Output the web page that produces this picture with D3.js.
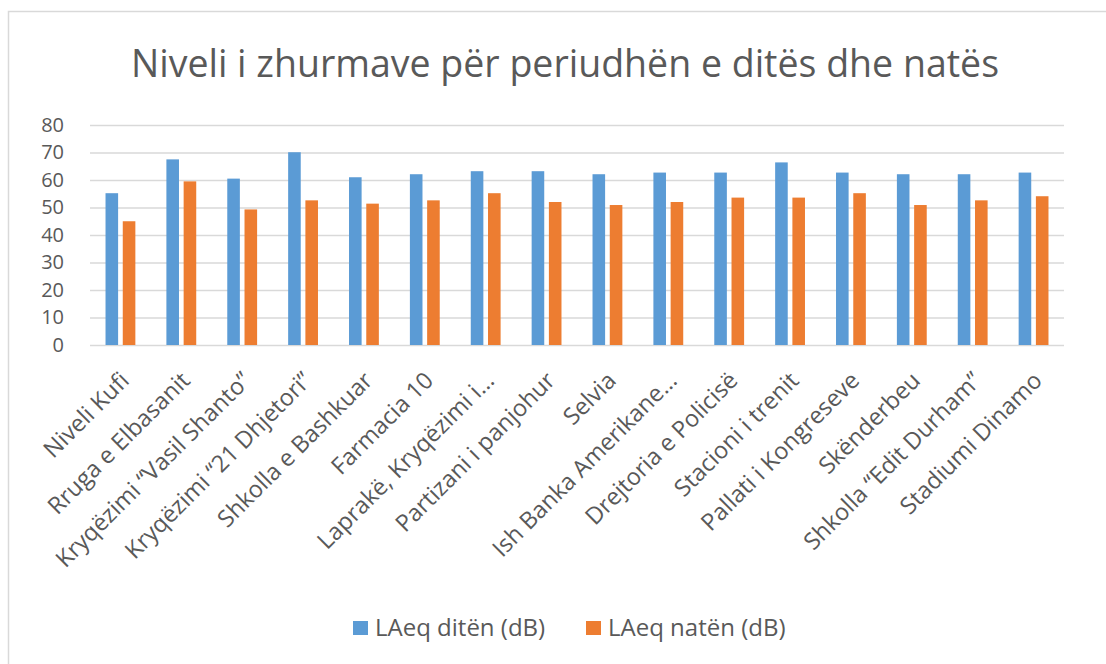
<!DOCTYPE html>
<html>
<head>
<meta charset="utf-8">
<script src="https://cdn.jsdelivr.net/npm/d3@7"></script>
<style>
  body { margin: 0; background: #fff; }
  text { font-family: "Open Sans", sans-serif; fill: #595959; }
</style>
</head>
<body>
<div id="chart"></div>
<script>
// chart data
var categories = ["Niveli Kufi", "Rruga e Elbasanit", "Kryqëzimi “Vasil Shanto”",
  "Kryqëzimi “21 Dhjetori”", "Shkolla e Bashkuar", "Farmacia 10",
  "Laprakë, Kryqëzimi i…", "Partizani i panjohur", "Selvia",
  "Ish Banka Amerikane…", "Drejtoria e Policisë", "Stacioni i trenit",
  "Pallati i Kongreseve", "Skënderbeu", "Shkolla “Edit Durham”", "Stadiumi Dinamo"];
var dayValues   = [55.2, 67.5, 60.5, 70.1, 61.0, 62.1, 63.2, 63.2, 62.1, 62.7, 62.7, 66.4, 62.7, 62.1, 62.1, 62.7];
var nightValues = [45.0, 59.5, 49.3, 52.6, 51.4, 52.6, 55.2, 52.0, 50.9, 52.0, 53.6, 53.6, 55.2, 50.9, 52.6, 54.1];
var seriesNames = ["LAeq ditën (dB)", "LAeq natën (dB)"];
var seriesColors = ["#5B9BD5", "#ED7D31"];
var yTicks = [0, 10, 20, 30, 40, 50, 60, 70, 80];
var title = "Niveli i zhurmave për periudhën e ditës dhe natës";

var W = 1106, H = 664;
var margin = {top: 125, right: 42, bottom: 319, left: 90};
var width = W - margin.left - margin.right,
    height = H - margin.top - margin.bottom;

var root = d3.select("#chart").append("svg")
  .attr("width", W)
  .attr("height", H);

//chart area border (only left and top show in the crop)
root.append("rect")
  .attr("x", 8.5).attr("y", 11.5)
  .attr("width", 1200).attr("height", 800)
  .style("fill", "#fff")
  .style("stroke", "#D9D9D9")
  .style("stroke-width", 1.5);

//title
root.append("text")
  .attr("x", 565)
  .attr("y", 77)
  .attr("text-anchor", "middle")
  .style("font-size", "37.5px")
  .text(title);

var svg = root.append("g")
  .attr("transform", "translate(" + margin.left + "," + margin.top + ")");

var x0 = d3.scaleBand().domain(categories).range([0, width]).padding(0);
var x1 = d3.scaleBand().domain(seriesNames).range([0, x0.bandwidth()])
  .paddingInner(0.27).paddingOuter(0.9);
var y = d3.scaleLinear().domain([0, 80]).range([height, 0]);

//gridlines + y labels
var yAxis = svg.append("g")
  .call(d3.axisLeft(y).tickValues(yTicks).tickSize(-width).tickPadding(26));
yAxis.select(".domain").remove();
yAxis.selectAll("line").style("stroke", "#D9D9D9").style("stroke-width", 1.5);
yAxis.selectAll("text").style("font-size", "20px").style("fill", "#595959")
  .style("font-family", "'Open Sans', sans-serif");

//bars
var rows = categories.map(function(c, i) {
  return {cat: c, vals: [dayValues[i], nightValues[i]]};
});
var groups = svg.selectAll(".grp")
  .data(rows)
  .enter().append("g")
  .attr("class", "grp")
  .attr("transform", function(d) { return "translate(" + x0(d.cat) + ",0)"; });
groups.selectAll("rect")
  .data(function(d) { return d.vals.map(function(v, j) { return {s: seriesNames[j], v: v, j: j}; }); })
  .enter().append("rect")
  .attr("x", function(d) { return x1(d.s); })
  .attr("y", function(d) { return y(d.v); })
  .attr("width", x1.bandwidth())
  .attr("height", function(d) { return height - y(d.v); })
  .style("fill", function(d) { return seriesColors[d.j]; });

//x labels, rotated
var xAxis = svg.append("g")
  .attr("transform", "translate(0," + height + ")")
  .call(d3.axisBottom(x0).tickSize(0).tickPadding(0));
xAxis.select(".domain").remove();
xAxis.selectAll("text")
  .style("font-size", "23.5px")
  .style("fill", "#595959")
  .style("font-family", "'Open Sans', sans-serif")
  .attr("text-anchor", "end")
  .attr("dy", null)
  .attr("y", 0)
  .attr("transform", "translate(10,37) rotate(-45)");

//legend
var legend = root.append("g");
var lx = [353, 586];
seriesNames.forEach(function(name, i) {
  legend.append("rect")
    .attr("x", lx[i]).attr("y", 621)
    .attr("width", 15).attr("height", 14)
    .style("fill", seriesColors[i]);
  legend.append("text")
    .attr("x", lx[i] + 22).attr("y", 636)
    .style("font-size", "24px")
    .text(name);
});
</script>
</body>
</html>
